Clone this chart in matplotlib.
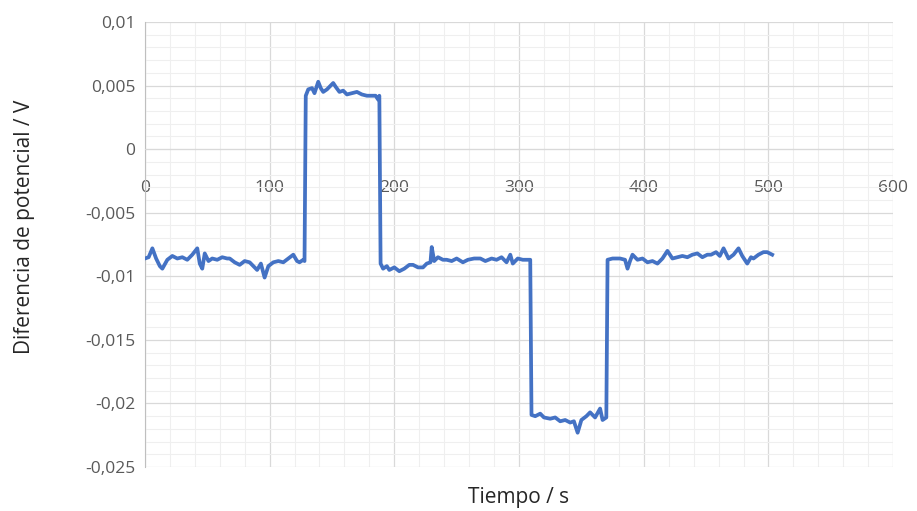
import matplotlib
matplotlib.use("Agg")
import matplotlib.pyplot as plt
from matplotlib.ticker import MultipleLocator, FuncFormatter

# tiempo (s) y diferencia de potencial (V)
tiempo = [0, 3, 6, 9, 12, 14, 18, 22, 26, 30, 34, 38, 42, 44, 46, 48, 51, 54, 58, 62,
          66, 68, 72, 76, 80, 84, 87, 90, 93, 96, 99, 103, 107, 111, 115, 119, 122, 124, 127, 128,
          129, 131, 134, 136, 139, 141, 143, 146, 149, 151, 153, 156, 159, 162, 166, 170, 174, 178, 182, 185,
          187, 188,
          189, 191, 194, 196, 200, 204, 208, 212, 215, 219, 223, 226, 229, 230, 232, 235, 239, 242, 246, 250,
          255, 259, 264, 269, 273, 278, 282, 286, 290, 293, 295, 299, 303, 306, 309,
          310, 313, 317, 320, 325, 329, 333, 337, 341, 344, 347, 350, 354, 357, 361, 365, 367, 370,
          371, 375, 381, 385, 387, 389, 391, 395, 399, 403, 407, 411, 415, 419, 423, 427, 431, 435, 439, 443,
          447, 451, 454, 458, 461, 464, 468, 472, 476, 479, 483, 486, 488, 492, 496, 499, 503]
potencial = [-0.0086, -0.0085, -0.0078, -0.0086, -0.0092, -0.0094, -0.0087, -0.0084, -0.0086, -0.0085,
             -0.0087, -0.0083, -0.0078, -0.0090, -0.0094, -0.0082, -0.0088, -0.0086, -0.0087, -0.0085,
             -0.0086, -0.0086, -0.0089, -0.0091, -0.0088, -0.0089, -0.0092, -0.0095, -0.0090, -0.0101,
             -0.0092, -0.0089, -0.0088, -0.0089, -0.0086, -0.0083, -0.0088, -0.0089, -0.0087, -0.0088,
             0.0042, 0.0047, 0.0048, 0.0044, 0.0053, 0.0048, 0.0045, 0.0047, 0.0050, 0.0052,
             0.0049, 0.0045, 0.0046, 0.0043, 0.0044, 0.0045, 0.0043, 0.0042, 0.0042, 0.0042,
             0.0039, 0.0042,
             -0.0090, -0.0094, -0.0092, -0.0095, -0.0093, -0.0096, -0.0094, -0.0091, -0.0091, -0.0093,
             -0.0093, -0.0090, -0.0089, -0.0077, -0.0088, -0.0085, -0.0087, -0.0087, -0.0088, -0.0086,
             -0.0089, -0.0087, -0.0086, -0.0086, -0.0088, -0.0086, -0.0087, -0.0085, -0.0089, -0.0083,
             -0.0090, -0.0086, -0.0087, -0.0087, -0.0087,
             -0.0209, -0.0210, -0.0208, -0.0211, -0.0212, -0.0211, -0.0214, -0.0213, -0.0215, -0.0214,
             -0.0223, -0.0213, -0.0210, -0.0207, -0.0211, -0.0204, -0.0213, -0.0211,
             -0.0087, -0.0086, -0.0086, -0.0087, -0.0094, -0.0088, -0.0083, -0.0087, -0.0086, -0.0089,
             -0.0088, -0.0090, -0.0086, -0.0080, -0.0086, -0.0085, -0.0084, -0.0085, -0.0083, -0.0082,
             -0.0085, -0.0083, -0.0083, -0.0081, -0.0084, -0.0078, -0.0086, -0.0083, -0.0078, -0.0084,
             -0.0090, -0.0085, -0.0086, -0.0083, -0.0081, -0.0081, -0.0083]

plt.rcParams['font.family'] = ['Open Sans', 'DejaVu Sans']

fig = plt.figure(figsize=(9.17, 5.11), dpi=100)
ax = fig.add_axes([0.158, 0.086, 0.816, 0.871])

ax.plot(tiempo, potencial, color='#4472C4', linewidth=2.7, zorder=3)

ax.set_xlim(0, 600)
ax.set_ylim(-0.025, 0.01)
ax.xaxis.set_major_locator(MultipleLocator(100))
ax.xaxis.set_minor_locator(MultipleLocator(20))
ax.yaxis.set_major_locator(MultipleLocator(0.005))
ax.yaxis.set_minor_locator(MultipleLocator(0.001))

ax.grid(which='major', color='#d9d9d9', linewidth=0.9)
ax.grid(which='minor', color='#efefef', linewidth=0.8)
ax.set_axisbelow(True)

coma = FuncFormatter(lambda v, p: ('%g' % (round(v, 4) + 0.0)).replace('.', ','))
ax.xaxis.set_major_formatter(coma)
ax.yaxis.set_major_formatter(coma)

for s in ['top', 'right']:
    ax.spines[s].set_visible(False)
ax.spines['bottom'].set_position(('data', 0))
ax.spines['bottom'].set_color('#d9d9d9')
ax.spines['left'].set_color('#bfbfbf')

ax.tick_params(which='both', length=0, labelsize=12.5, labelcolor='#595959')
ax.tick_params(axis='x', pad=22)
ax.tick_params(axis='y', pad=7)

ax.set_xlabel('Tiempo / s', fontsize=15, color='#262626')
ax.xaxis.set_label_coords(0.5, -0.045)
ax.set_ylabel('Diferencia de potencial / V', fontsize=15, color='#262626')
ax.yaxis.set_label_coords(-0.147, 0.54)

fig.savefig('out.png', dpi=100)
